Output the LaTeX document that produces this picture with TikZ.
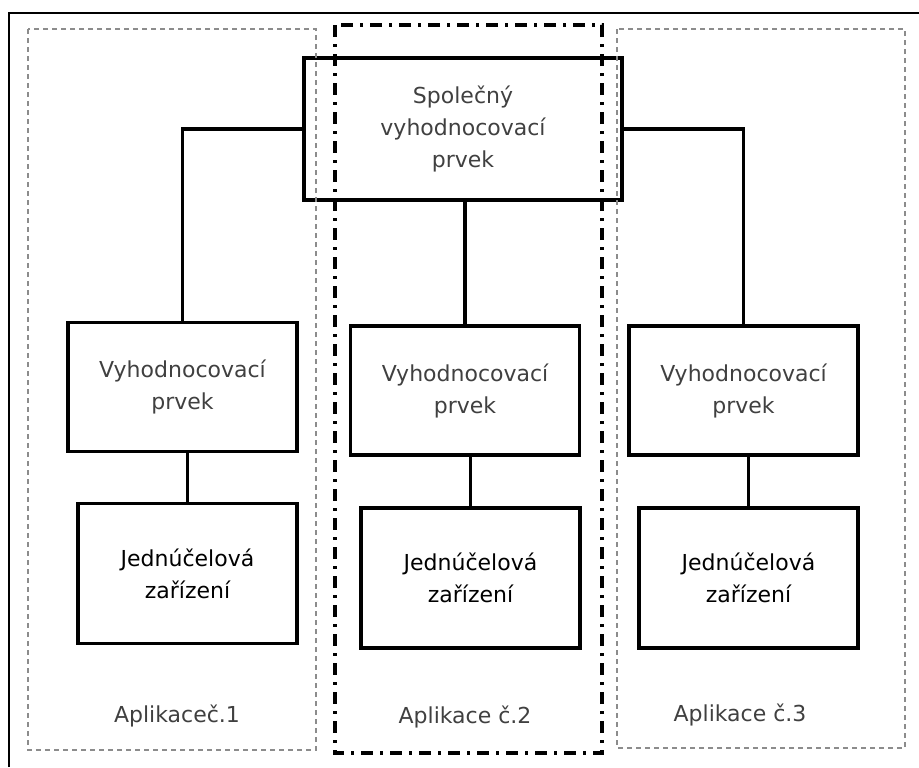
\documentclass[tikz,border=0pt]{standalone}
\usepackage{fontspec}
\setmainfont{DejaVu Sans}
\usetikzlibrary{positioning}

\definecolor{textgray}{HTML}{404040}
\definecolor{framegray}{HTML}{8C8C8C}

\begin{document}
\begin{tikzpicture}[x=0.5pt,y=-0.5pt,line join=miter,
  every node/.style={inner sep=1pt,font=\fontsize{11}{16}\selectfont,align=center},
  blok/.style={draw,line width=1.7pt,text=textgray},
  prvek/.style={blok,minimum width=114.5pt,minimum height=64.5pt},
  zarizeni/.style={blok,text=black,minimum width=109.5pt,minimum height=70pt},
  spoj/.style={line width=1.6pt},
  aplikace/.style={draw=framegray,line width=0.9pt,dash pattern=on 2.5pt off 2pt},
  hlavni/.style={draw,line width=1.8pt,dash pattern=on 6pt off 3.5pt on 1.5pt off 3.5pt},
  popis/.style={text=textgray}]
  \useasboundingbox (0,0) rectangle (919,767);
  \draw[line width=0.6pt] (9,767) -- (9,13) -- (919,13);
  % bloky
  \node[blok,minimum width=159pt,minimum height=71pt] (sp) at (463,129) {Společný\\vyhodnocovací\\prvek};
  \node[prvek] (v1) at (182.5,387) {Vyhodnocovací\\prvek};
  \node[prvek] (v2) at (465,390.5) {Vyhodnocovací\\prvek};
  \node[prvek] (v3) at (743.5,390.5) {Vyhodnocovací\\prvek};
  \node[zarizeni] (j1) at (187.5,573.5) {Jednúčelová\\zařízení};
  \node[zarizeni] (j2) at (470.5,578) {Jednúčelová\\zařízení};
  \node[zarizeni] (j3) at (748.5,578) {Jednúčelová\\zařízení};
  % spoje
  \draw[spoj] (sp.west) -| (v1.north);
  \draw[spoj] (sp.east) -| (v3.north);
  \draw[spoj] (v2.north |- sp.south) -- (v2.north);
  \draw[spoj] (j1.north |- v1.south) -- (j1.north);
  \draw[spoj] (j2.north |- v2.south) -- (j2.north);
  \draw[spoj] (j3.north |- v3.south) -- (j3.north);
  % aplikace
  \draw[aplikace] (28,29) rectangle (316,750);
  \draw[aplikace] (617,29) rectangle (905,748);
  \draw[hlavni] (335,25) rectangle (602,753);
  \node[popis] (a1) at (177,716) {Aplikaceč.1};
  \node[popis] (a2) at (465,717) {Aplikace č.2};
  \node[popis] (a3) at (740,715) {Aplikace č.3};
\end{tikzpicture}
\end{document}
